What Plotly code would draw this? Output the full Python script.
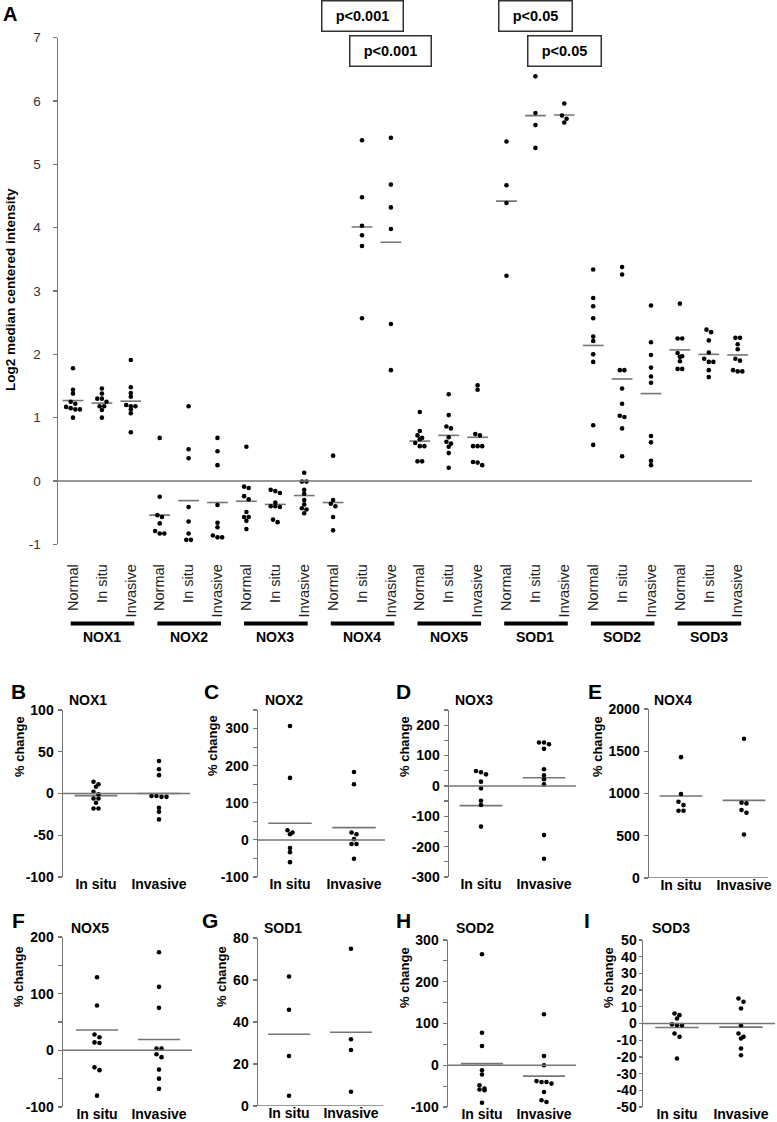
import plotly.graph_objects as go

W, H = 777, 1122

# ---------------- Panel A data (log2 median centered intensity) ----------------
genes = ["NOX1", "NOX2", "NOX3", "NOX4", "NOX5", "SOD1", "SOD2", "SOD3"]
stages = ["Normal", "In situ", "Invasive"]

A_NOX1 = ([1.78, 1.44, 1.38, 1.25, 1.22, 1.17, 1.15, 1.13, 1.13, 1.00],
          [1.46, 1.38, 1.30, 1.30, 1.25, 1.18, 1.18, 1.12, 1.00],
          [1.91, 1.48, 1.39, 1.33, 1.20, 1.18, 1.18, 1.13, 1.07, 0.77])
A_NOX2 = ([0.68, -0.25, -0.54, -0.57, -0.67, -0.79, -0.83, -0.83],
          [1.18, 0.50, 0.36, -0.41, -0.64, -0.83, -0.93, -0.93],
          [0.68, 0.47, 0.25, -0.38, -0.66, -0.73, -0.86, -0.89, -0.89])
A_NOX3 = ([0.54, -0.09, -0.11, -0.24, -0.29, -0.49, -0.57, -0.57, -0.63, -0.76],
          [-0.14, -0.16, -0.19, -0.34, -0.40, -0.40, -0.41, -0.61, -0.65],
          [0.13, -0.01, -0.01, -0.14, -0.20, -0.30, -0.37, -0.43, -0.45, -0.51])
A_NOX4 = ([0.40, -0.30, -0.36, -0.40, -0.57, -0.78],
          [5.38, 4.48, 4.03, 3.88, 3.71, 2.57],
          [5.42, 4.68, 4.32, 3.98, 2.48, 1.75])
A_NOX5 = ([1.09, 0.79, 0.72, 0.68, 0.66, 0.60, 0.55, 0.55, 0.31, 0.31],
          [1.37, 1.04, 0.86, 0.83, 0.69, 0.62, 0.59, 0.54, 0.44, 0.21],
          [1.51, 1.44, 0.74, 0.72, 0.55, 0.55, 0.55, 0.30, 0.29, 0.25])
A_SOD1 = ([5.36, 4.67, 4.39, 3.24],
          [6.39, 5.81, 5.62, 5.26],
          [5.96, 5.77, 5.72, 5.66])
A_SOD2 = ([3.34, 2.89, 2.76, 2.57, 2.28, 2.21, 2.00, 1.88, 0.88, 0.57],
          [3.38, 3.26, 1.75, 1.75, 1.46, 1.22, 1.03, 1.01, 0.83, 0.39],
          [2.77, 2.19, 1.99, 1.79, 1.65, 1.55, 0.71, 0.61, 0.32, 0.25])
A_SOD3 = ([2.80, 2.25, 2.25, 2.02, 1.97, 1.96, 1.89, 1.77, 1.77],
          [2.39, 2.35, 2.22, 2.03, 1.93, 1.88, 1.88, 1.75, 1.64],
          [2.26, 2.26, 2.16, 2.08, 1.93, 1.90, 1.75, 1.73, 1.73])

A_means = [[1.27, 1.23, 1.26], [-0.54, -0.31, -0.34], [-0.32, -0.37, -0.23],
           [-0.34, 4.01, 3.77], [0.63, 0.72, 0.69], [4.42, 5.77, 5.78],
           [2.14, 1.61, 1.38], [2.07, 2.00, 1.99]]

p_labels = ["p<0.001", "p<0.001", "p<0.05", "p<0.05"]
p_targets = [("NOX4", "In situ"), ("NOX4", "Invasive"), ("SOD1", "In situ"), ("SOD1", "Invasive")]

# ---------------- Panels B-I data (% change vs normal) ----------------
sub_genes = ["NOX1", "NOX2", "NOX3", "NOX4", "NOX5", "SOD1", "SOD2", "SOD3"]
sub_letters = ["B", "C", "D", "E", "F", "G", "H", "I"]
sub_cats = ["In situ", "Invasive"]

B_NOX1 = ([14, 11, 8, 2, -1, -6, -6, -11, -18, -18], [39, 29, 22, -3, -3, -4, -4, -17, -22, -31])
C_NOX2 = ([307, 167, 26, 20, 15, -22, -33, -60], [183, 150, 20, 15, 2, -11, -11, -51])
D_NOX3 = ([49, 45, 38, 14, -8, -49, -63, -134], [143, 143, 137, 122, 55, 35, 22, 5, -162, -240])
E_NOX4 = ([1430, 994, 903, 863, 796, 796], [1648, 891, 883, 804, 772, 515])
F_NOX5 = ([129, 79, 28, 23, 14, 13, -30, -35, -80], [173, 112, 75, 3, 3, -7, -12, -34, -50, -68])
G_SOD1 = ([61.7, 45.8, 23.8, 4.9], [74.9, 31.8, 26.7, 6.8])
H_SOD2 = ([266, 78, 46, -12, -22, -48, -56, -58, -60, -90], [122, 22, 0, -38, -40, -40, -44, -64, -84, -88])
I_SOD3 = ([6, 5, 3, -0.5, -1, -1, -6, -8, -21], [15, 13, 9, -1, -6, -8, -9, -15, -19])

sub_means = [[-2.5, 0.0], [45, 33], [-65, 27], [970, 919],
             [36, 19], [34.2, 35.1], [4, -26], [-2.4, -2.2]]

# ---------------- helpers ----------------
FONT = "Liberation Sans, Arial, sans-serif"
GRAY = "#767676"


def px(p):
    return p / W


def py(p):
    return 1 - p / H


def swarm(vals, thr):
    order = sorted(range(len(vals)), key=lambda i: -vals[i])
    offs = [0.0] * len(vals)
    groups, cur = [], []
    for i in order:
        if cur and vals[cur[0]] - vals[i] > thr:
            groups.append(cur)
            cur = []
        cur.append(i)
    if cur:
        groups.append(cur)
    for g in groups:
        n = len(g)
        for k, i in enumerate(g):
            offs[i] = k - (n - 1) / 2
    return offs


def ticktxt(v):
    return str(int(v)) if float(v).is_integer() else str(v)


fig = go.Figure()
annotations = []
shapes = []

# ---------------- Panel A ----------------
A_data = [A_NOX1, A_NOX2, A_NOX3, A_NOX4, A_NOX5, A_SOD1, A_SOD2, A_SOD3]
A_left, A_right, A_top, A_bot = 58, 752, 37.7, 544.3
A_c0, A_unit = 73, 28.9
A_ymin, A_ymax = -1, 7
A_pxper = (A_bot - A_top) / (A_ymax - A_ymin)

xs, ys, mx, my = [], [], [], []
for gi, gdata in enumerate(A_data):
    for si, vals in enumerate(gdata):
        c = gi * 3 + si
        offs = swarm(vals, 3.6 / A_pxper)
        for v, o in zip(vals, offs):
            xs.append(c + o * 4.6 / A_unit)
            ys.append(v)
        m = A_means[gi][si]
        mx += [c - 0.36, c + 0.36, None]
        my += [m, m, None]

fig.add_trace(go.Scatter(x=mx, y=my, mode="lines", line=dict(color=GRAY, width=1.6),
                         xaxis="x", yaxis="y", hoverinfo="skip"))
fig.add_trace(go.Scatter(x=xs, y=ys, mode="markers", marker=dict(color="black", size=4.6),
                         xaxis="x", yaxis="y"))

ncat = len(genes) * len(stages)
fig.update_layout(
    xaxis=dict(domain=[px(A_left), px(A_right)],
               range=[(A_left - A_c0) / A_unit, (A_right - A_c0) / A_unit],
               tickmode="array", tickvals=list(range(ncat)),
               ticktext=[s for _ in genes for s in stages],
               tickangle=-90, showline=False, ticks="", showgrid=False, zeroline=False,
               tickfont=dict(size=14.5, color="#222", family=FONT),
               ticklabelstandoff=16, anchor="y", fixedrange=True, automargin=False),
    yaxis=dict(domain=[py(A_bot), py(A_top)], range=[A_ymin, A_ymax],
               tickmode="array", tickvals=list(range(A_ymin, A_ymax + 1)),
               ticktext=[ticktxt(v) for v in range(A_ymin, A_ymax + 1)],
               showline=True, linecolor=GRAY, linewidth=1.5,
               ticks="outside", ticklen=4, tickcolor=GRAY, tickwidth=1.2,
               tickfont=dict(size=13.5, color="#333", family=FONT),
               ticklabelstandoff=9, showgrid=False, zeroline=False, anchor="x",
               fixedrange=True, automargin=False),
)

shapes.append(dict(type="line", xref="x domain", yref="y", x0=0, x1=1, y0=0, y1=0,
                   line=dict(color=GRAY, width=1.5)))

# group bars and labels
for gi, g in enumerate(genes):
    shapes.append(dict(type="line", xref="x", yref="paper", x0=gi * 3 - 0.08, x1=gi * 3 + 2.12,
                       y0=py(623.5), y1=py(623.5), line=dict(color="black", width=4)))
    annotations.append(dict(text=g, xref="x", yref="paper", x=gi * 3 + 1, y=py(636.5),
                            showarrow=False, xanchor="center", yanchor="middle",
                            font=dict(size=14, family=FONT, color="black", weight="bold")))

# p-value boxes
p_rows = [16, 51, 16, 51]
p_widths = [80, 80, 72, 72]
for lab, (g, s), row, wdt in zip(p_labels, p_targets, p_rows, p_widths):
    annotations.append(dict(text=lab, xref="x", yref="paper",
                            x=genes.index(g) * 3 + stages.index(s), y=py(row),
                            showarrow=False, xanchor="center", yanchor="middle",
                            width=wdt, height=29, borderpad=0, bordercolor="#333", borderwidth=1.5,
                            bgcolor="white",
                            font=dict(size=14.5, family=FONT, color="black", weight="bold")))

annotations.append(dict(text="A", xref="paper", yref="paper", x=px(10), y=py(14),
                        showarrow=False, xanchor="center", yanchor="middle",
                        font=dict(size=20, family=FONT, color="black", weight="bold")))
annotations.append(dict(text="Log2 median centered intensity", xref="paper", yref="paper",
                        x=px(10), y=py(290), textangle=-90, showarrow=False,
                        xanchor="center", yanchor="middle",
                        font=dict(size=13.5, family=FONT, color="black", weight="bold")))

# ---------------- Panels B-I ----------------
sub_data = [B_NOX1, C_NOX2, D_NOX3, E_NOX4, F_NOX5, G_SOD1, H_SOD2, I_SOD3]
# layout geometry in pixels: (x-left, x-right), (y-top, y-bottom), (cat0 px, cat1 px)
geo = [((63, 190), (710, 877), (96, 159)),
       ((258, 385), (710, 877), (290, 354)),
       ((449, 576), (710, 877), (481, 544)),
       ((649, 768), (709, 878), (681, 744)),
       ((63, 192), (937, 1107), (97, 159)),
       ((258, 383), (938, 1106), (289, 351)),
       ((448, 576), (940, 1107), (482, 544)),
       ((643, 775), (940, 1107), (677, 741))]
yranges = [(-100, 100, 50, None), (-100, 350, 100, 50), (-300, 250, 100, 50), (0, 2000, 500, None),
           (-100, 200, 100, 50), (0, 80, 20, None), (-100, 300, 100, 50), (-50, 50, 10, None)]
tick_lens = [4, 4, 4, 4, 4, 4, 4, 3]
tick_stand = [1, 1, 1, 1, 1, 1, 1, -1]
letter_pos = [(18, 691), (212, 692), (403, 692), (595, 692),
              (18, 920), (210, 920), (403, 920), (587, 920)]
title_pos = [(88, 700), (284, 700), (474, 700), (673, 700),
             (90, 928), (283, 928), (475, 928), (671, 928)]
ytitle_pos = [(19, 747), (212, 745), (404, 747), (597, 747),
              (18, 977), (221, 977), (404, 978), (608, 978)]

for k in range(8):
    n = k + 2
    xa, ya = f"x{n}", f"y{n}"
    (xl, xr), (yt, yb), (c0, c1) = geo[k]
    lo, hi, major, minor = yranges[k]
    unit = c1 - c0
    pxper = (yb - yt) / (hi - lo)
    mx, my, xs, ys = [], [], [], []
    for ci, vals in enumerate(sub_data[k]):
        offs = swarm(vals, 3.6 / pxper)
        for v, o in zip(vals, offs):
            xs.append(ci + o * 5.0 / unit)
            ys.append(v)
        m = sub_means[k][ci]
        mx += [ci - 0.34, ci + 0.34, None]
        my += [m, m, None]
    fig.add_trace(go.Scatter(x=mx, y=my, mode="lines", line=dict(color=GRAY, width=1.6),
                             xaxis=xa, yaxis=ya, hoverinfo="skip"))
    fig.add_trace(go.Scatter(x=xs, y=ys, mode="markers", marker=dict(color="black", size=4.6),
                             xaxis=xa, yaxis=ya))
    majors = []
    v = lo
    while v <= hi + 1e-9:
        majors.append(v)
        v += major
    minors = []
    if minor:
        v = lo
        while v <= hi + 1e-9:
            if all(abs(v - mj) > 1e-9 for mj in majors):
                minors.append(v)
            v += minor
    yax = dict(domain=[py(yb), py(yt)], range=[lo, hi], anchor=xa,
               tickmode="array", tickvals=majors, ticktext=[ticktxt(t) for t in majors],
               showline=True, linecolor=GRAY, linewidth=1.5,
               ticks="outside", ticklen=tick_lens[k], tickcolor=GRAY, tickwidth=1.2,
               tickfont=dict(size=14, color="black", family=FONT, weight="bold"),
               ticklabelstandoff=tick_stand[k], showgrid=False, zeroline=False, fixedrange=True,
               automargin=False)
    if minors:
        yax["minor"] = dict(tickmode="array", tickvals=minors, ticks="outside", ticklen=4,
                            tickcolor=GRAY, tickwidth=1.2, showgrid=False)
    xax = dict(domain=[px(xl), px(xr)], range=[(xl - c0) / unit, (xr - c0) / unit], anchor=ya,
               tickmode="array", tickvals=[0, 1], ticktext=sub_cats,
               showline=False, ticks="", showgrid=False, zeroline=False,
               tickfont=dict(size=14, color="black", family=FONT, weight="bold"),
               ticklabelstandoff=-3, fixedrange=True, automargin=False)
    fig.update_layout(**{f"xaxis{n}": xax, f"yaxis{n}": yax})
    shapes.append(dict(type="line", xref=f"{xa} domain", yref=ya, x0=0, x1=1, y0=0, y1=0,
                       line=dict(color=GRAY, width=1.5)))
    lx, ly = letter_pos[k]
    annotations.append(dict(text=sub_letters[k], xref="paper", yref="paper", x=px(lx), y=py(ly),
                            showarrow=False, xanchor="center", yanchor="middle",
                            font=dict(size=21, family=FONT, color="black", weight="bold")))
    tx, ty = title_pos[k]
    annotations.append(dict(text=sub_genes[k], xref="paper", yref="paper", x=px(tx), y=py(ty),
                            showarrow=False, xanchor="center", yanchor="middle",
                            font=dict(size=14, family=FONT, color="black", weight="bold")))
    yx, yy = ytitle_pos[k]
    annotations.append(dict(text="% change", xref="paper", yref="paper", x=px(yx), y=py(yy),
                            textangle=-90, showarrow=False, xanchor="center", yanchor="middle",
                            font=dict(size=13, family=FONT, color="black", weight="bold")))

fig.update_layout(width=W, height=H, margin=dict(l=0, r=0, t=0, b=0, autoexpand=False),
                  plot_bgcolor="white", paper_bgcolor="white", showlegend=False,
                  font=dict(family=FONT, color="black"),
                  annotations=annotations, shapes=shapes)

fig.write_html("out.html", config={"displayModeBar": False, "staticPlot": True},
               post_script="document.body.style.margin='0';document.body.style.overflow='hidden';")
